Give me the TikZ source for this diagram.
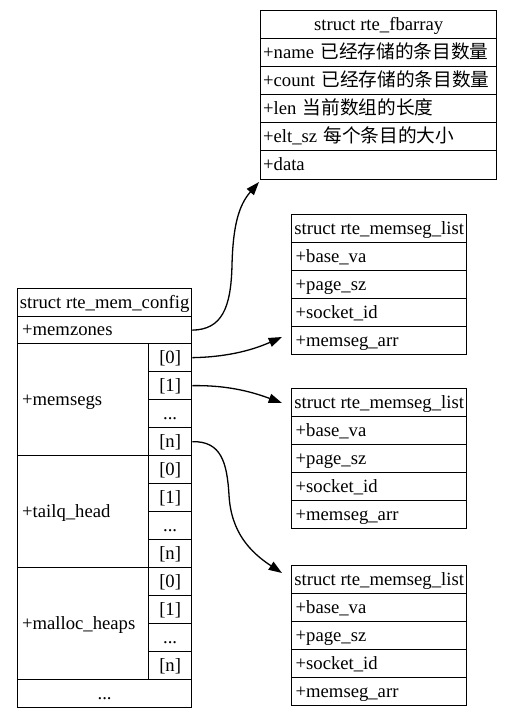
\documentclass[tikz,border=0pt]{standalone}
\usepackage{fontspec}
\setmainfont{Liberation Serif}
\newfontfamily\cjk{Noto Sans CJK SC}
\usetikzlibrary{arrows.meta}
\begin{document}
\begin{tikzpicture}[x=1pt,y=-1pt,
  cell/.style={draw, line width=1.3pt, rectangle, anchor=north west,
    inner ysep=0pt, text height=14pt, text depth=3pt,
    minimum height=28pt, font=\fontsize{18.67pt}{22pt}\selectfont},
  ccell/.style={cell, inner xsep=0pt, minimum width=#1, align=center},
  lcell/.style={cell, align=left, text width=#1},
  link/.style={line width=1.3pt, -{Triangle[length=13.3pt,width=9.3pt]}}]
\useasboundingbox (0,0) rectangle (512,718);

% struct rte_fbarray
\begin{scope}[every node/.append style={inner xsep=2.5pt}]
\node[ccell=236] (fb-head) at (260,10) {struct rte\_fbarray};
\node[lcell=231] (fb-name)  at (260,38)  {+name {\cjk 已经存储的条目数量}};
\node[lcell=231] (fb-count) at (260,66)  {+count {\cjk 已经存储的条目数量}};
\node[lcell=231] (fb-len)   at (260,94)  {+len {\cjk 当前数组的长度}};
\node[lcell=231] (fb-eltsz) at (260,122) {+elt\_sz {\cjk 每个条目的大小}};
\node[lcell=231, minimum height=29pt] (fb-data) at (260,150) {+data};
\end{scope}

% three struct rte_memseg_list boxes
\foreach \n/\y in {a/214, b/388, c/565} {
  \begin{scope}[every node/.append style={inner xsep=4pt}]
  \node[ccell=175] (ml\n-head) at (291,\y) {struct rte\_memseg\_list};
  \node[lcell=167] (ml\n-base) at (291,\y+28)  {+base\_va};
  \node[lcell=167] (ml\n-page) at (291,\y+56)  {+page\_sz};
  \node[lcell=167] (ml\n-sock) at (291,\y+84)  {+socket\_id};
  \node[lcell=167] (ml\n-arr)  at (291,\y+112) {+memseg\_arr};
  \end{scope}
}

% struct rte_mem_config
\begin{scope}[every node/.append style={inner xsep=4.5pt}]
\node[ccell=174] (cfg-head) at (17,288) {struct rte\_mem\_config};
\node[lcell=165, minimum height=27pt] (cfg-memzones) at (17,316) {+memzones};
\node[lcell=122, minimum height=112pt] (cfg-memsegs) at (17,343) {+memsegs};
\node[lcell=122, minimum height=112pt] (cfg-tailq)   at (17,455) {+tailq\_head};
\node[lcell=122, minimum height=112pt] (cfg-heaps)   at (17,567) {+malloc\_heaps};
\node[ccell=174] (cfg-more) at (17,679) {...};
\end{scope}
\foreach \g/\y in {seg/343, tq/455, mh/567} {
  \node[ccell=43] (cfg-\g0) at (148,\y)    {[0]};
  \node[ccell=43] (cfg-\g1) at (148,\y+28) {[1]};
  \node[ccell=43] (cfg-\g2) at (148,\y+56) {...};
  \node[ccell=43] (cfg-\g n) at (148,\y+84) {[n]};
}

% arrow ends beside the target boxes
\coordinate (fb-in)  at (259,182);
\coordinate (mla-in) at (282,337);
\coordinate (mlb-in) at (282,403);
\coordinate (mlc-in) at (282,573);

% pointers
\draw[link] (cfg-memzones.east) .. controls (222,329.5) and (231,308) .. (232,265)
  .. controls (233,225) and (239,205) .. (fb-in);
\draw[link] (cfg-seg0.east) .. controls (230,357) and (255,349) .. (mla-in);
\draw[link] (cfg-seg1.east) .. controls (230,385) and (255,393) .. (mlb-in);
\draw[link] (cfg-segn.east) .. controls (221,441) and (227,462) .. (229,495)
  .. controls (231,532) and (250,552) .. (mlc-in);
\end{tikzpicture}
\end{document}
